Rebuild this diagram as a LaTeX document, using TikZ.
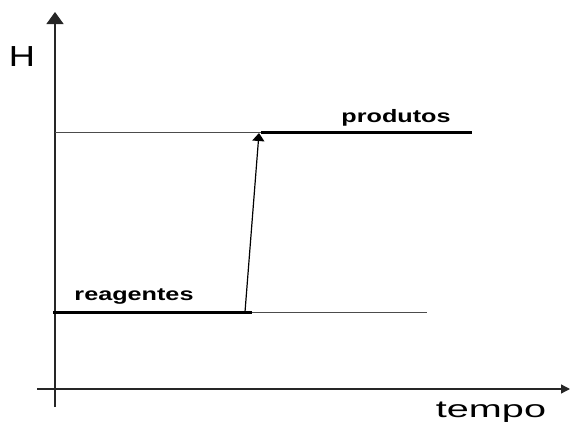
\documentclass[tikz,border=0pt]{standalone}
\usepackage{fontspec}
\setmainfont{Liberation Sans}
\usetikzlibrary{arrows.meta}
\begin{document}
\begin{tikzpicture}[x=1pt,y=-1pt,
  axis/.style={line width=1.3pt,draw=black!85},
  thinline/.style={line width=0.9pt,draw=black!70},
  level/.style={line width=3pt,draw=black},
  lbl/.style={inner sep=0pt,anchor=base,font=\bfseries\fontsize{18}{20}\selectfont,xscale=1.4},
  big/.style={inner sep=0pt,anchor=base}]
\useasboundingbox (0,0) rectangle (571,423);
% axes
\coordinate (yb) at (55,407);
\coordinate (yt) at (55,12);
\coordinate (xl) at (37,389);
\coordinate (xr) at (570,389);
\draw[axis,-{Triangle[length=12pt,width=17pt]}] (yb) -- (yt);
\draw[axis,-{Triangle[length=9pt,width=9pt]}] (xl) -- (xr);
% levels
\coordinate (p0) at (55,132);
\coordinate (p1) at (261,132);
\coordinate (p2) at (472,132);
\coordinate (r0) at (53,312);
\coordinate (r1) at (252,312);
\coordinate (r2) at (427,312);
\draw[thinline] (p0) -- (p1);
\draw[level] (p1) -- (p2);
\draw[level] (r0) -- (r1);
\draw[thinline] (r1) -- (r2);
% transition arrow
\coordinate (a0) at (245,312);
\coordinate (a1) at (259,133);
\draw[line width=1.2pt,-{Triangle[length=8pt,width=12pt]}] (a0) -- (a1);
% labels
\node[lbl] (prod) at (396,122) {produtos};
\node[lbl] (reag) at (134,300) {reagentes};
\node[big,font=\fontsize{29}{32}\selectfont,xscale=1.25] (H) at (22,66) {H};
\node[big,font=\fontsize{24}{28}\selectfont,xscale=1.65] (tempo) at (491,417) {tempo};
\end{tikzpicture}
\end{document}
